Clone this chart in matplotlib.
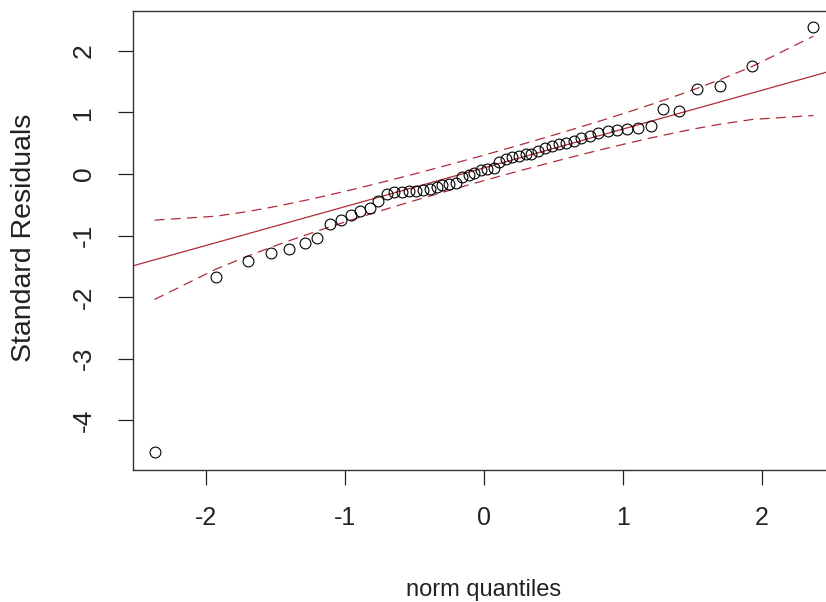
import math
import numpy as np
import matplotlib
matplotlib.use('Agg')
import matplotlib.pyplot as plt

# theoretical normal quantiles (x) and standardized residuals (y)
norm_q = [-2.37, -1.93, -1.70, -1.53, -1.40, -1.29, -1.20, -1.11, -1.03, -0.96,
          -0.89, -0.82, -0.76, -0.70, -0.65, -0.59, -0.54, -0.49, -0.44, -0.39,
          -0.34, -0.30, -0.25, -0.20, -0.16, -0.11, -0.07, -0.02, 0.02, 0.07,
          0.11, 0.16, 0.20, 0.25, 0.30, 0.34, 0.39, 0.44, 0.49, 0.54,
          0.59, 0.65, 0.70, 0.76, 0.82, 0.89, 0.96, 1.03, 1.11, 1.20,
          1.29, 1.40, 1.53, 1.70, 1.93, 2.37]
std_resid = [-4.52, -1.67, -1.41, -1.28, -1.22, -1.12, -1.04, -0.81, -0.74, -0.66,
             -0.60, -0.55, -0.44, -0.33, -0.30, -0.29, -0.28, -0.27, -0.26, -0.24,
             -0.21, -0.18, -0.16, -0.15, -0.05, -0.02, 0.02, 0.06, 0.08, 0.10,
             0.20, 0.25, 0.27, 0.30, 0.32, 0.33, 0.37, 0.42, 0.45, 0.48,
             0.50, 0.54, 0.58, 0.62, 0.66, 0.69, 0.71, 0.73, 0.75, 0.78,
             1.05, 1.03, 1.38, 1.43, 1.75, 2.38]

# robust fit line
intercept = 0.10
slope = 0.63

x_ticks = [-2, -1, 0, 1, 2]
y_ticks = [-4, -3, -2, -1, 0, 1, 2]

z = np.array(norm_q)
n = len(z)
fit = intercept + slope * z
# pointwise 95% envelope, as car::qqPlot draws it
P = np.array([0.5 * (1 + math.erf(v / math.sqrt(2))) for v in z])
dens = np.exp(-z ** 2 / 2) / math.sqrt(2 * math.pi)
se = (slope / dens) * np.sqrt(P * (1 - P) / n)
upper = fit + 1.96 * se
lower = fit - 1.96 * se

W, H = 826, 602
fig = plt.figure(figsize=(W / 100, H / 100), dpi=100)
ax = fig.add_axes([133 / W, 1 - 470 / H, (835 - 133) / W, (470 - 11) / H])

fam = ['Liberation Sans', 'DejaVu Sans']
red = '#b02c38'
txt = '#222222'

xl = (-2.525, 2.525)
ax.set_xlim(xl)
ax.set_ylim(-4.805, 2.646)
ax.plot(xl, [intercept + slope * v for v in xl], color=red, lw=0.9)
ax.plot(z, upper, color=red, lw=0.9, dashes=(8, 5))
ax.plot(z, lower, color=red, lw=0.9, dashes=(8, 5))
ax.plot(z, std_resid, linestyle='none', marker='o', markersize=7.8,
        markerfacecolor='none', markeredgecolor='black', markeredgewidth=0.8)

for s in ax.spines.values():
    s.set_color('#333333')
    s.set_linewidth(1.0)

ax.set_xticks(x_ticks)
ax.set_xticklabels([str(v) for v in x_ticks], family=fam, fontsize=18, color=txt)
ax.set_yticks(y_ticks)
ax.set_yticklabels([str(v) for v in y_ticks], family=fam, fontsize=19, color=txt,
                   rotation=90, va='center')
ax.tick_params(axis='both', length=11, width=0.9, color=txt)
ax.tick_params(axis='x', pad=15)
ax.tick_params(axis='y', pad=16)

fig.text(484 / W, 1 - 596 / H, 'norm quantiles', family=fam, fontsize=17,
         ha='center', va='baseline', color=txt)
fig.text(24 / W, 1 - 238 / H, 'Standard Residuals', family=fam, fontsize=20.5,
         ha='center', va='center', rotation=90, color=txt)

fig.savefig('out.png', dpi=100)
